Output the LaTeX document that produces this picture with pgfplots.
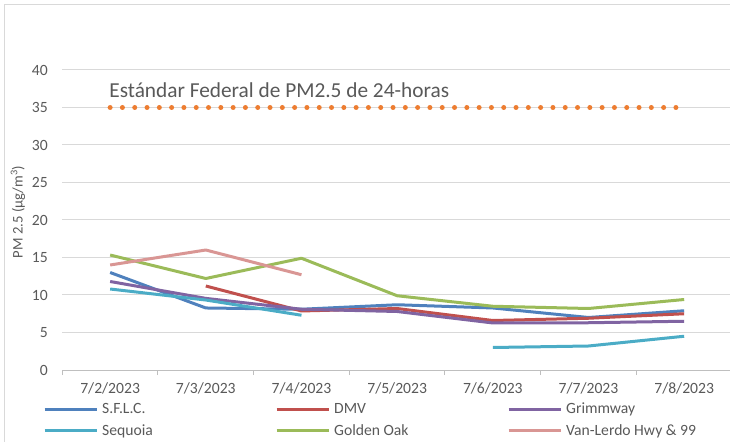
\documentclass[border=0pt]{standalone}
\usepackage{fontspec}
\setmainfont{Carlito}
\usepackage{pgfplots}
\pgfplotsset{compat=1.18}
\definecolor{txt}{HTML}{595959}
\definecolor{gridc}{HTML}{D9D9D9}
\definecolor{axc}{HTML}{BFBFBF}
\definecolor{cblue}{HTML}{4F81BD}
\definecolor{cred}{HTML}{C0504D}
\definecolor{cpurple}{HTML}{8064A2}
\definecolor{ccyan}{HTML}{4BACC6}
\definecolor{cgreen}{HTML}{9BBB59}
\definecolor{cpink}{HTML}{D99694}
\definecolor{corange}{HTML}{ED7D31}
\begin{document}
\begin{tikzpicture}
\path[use as bounding box] (0bp,0bp) rectangle (730bp,442bp);
\draw[gridc, line width=1bp] (4bp,-10bp) -- (4bp,437bp) -- (760bp,437bp);
\begin{axis}[
  at={(62.3bp,72bp)}, anchor=south west,
  scale only axis, width=669.7bp, height=300bp,
  xmin=-0.5, xmax=6.5, ymin=0, ymax=40,
  xtick={0,...,6},
  xticklabels={7/2/2023,7/3/2023,7/4/2023,7/5/2023,7/6/2023,7/7/2023,7/8/2023},
  minor xtick={-0.5,0.5,...,6.5},
  ytick={0,5,...,40},
  major tick length=0pt,
  minor tick length=5bp,
  tick align=outside,
  minor tick style={axc, line width=1bp},
  axis x line*=bottom, axis y line*=left,
  separate axis lines,
  x axis line style={axc, line width=1bp, -},
  y axis line style={draw=none},
  ymajorgrids, grid style={gridc, line width=1bp},
  ticklabel style={font=\fontsize{15.7}{18}\selectfont, text=txt},
  /pgf/number format/assume math mode=true,
  yticklabel style={xshift=-11bp},
  xticklabel style={yshift=-9bp},
  ylabel={PM 2.5 (µg/m\textsuperscript{3})},
  every axis y label/.style={at={(axis description cs:-0.0661,0.527)}, rotate=90, anchor=center, font=\fontsize{14.7}{17}\selectfont, text=txt},
  unbounded coords=jump,
  legend columns=3,
  legend cell align=left,
  legend style={at={(axis description cs:-0.0288,-0.103)}, anchor=north west, draw=none, fill=none, inner sep=0pt, row sep=5bp,
    font=\fontsize{15.7}{18}\selectfont, text=txt,
    /tikz/every odd column/.append style={column sep=2bp}},
  legend image code/.code={\draw[#1] (0bp,0bp) -- (52bp,0bp);},
  every axis plot/.append style={line width=3bp, line join=round},
  clip=false,
]
\addplot[corange, forget plot, line width=5bp, line cap=round, dash pattern=on 0bp off 12.3bp] coordinates {(0,35) (6,35)};
\addplot[cblue] coordinates {(0,13.0) (1,8.27) (2,8.1) (3,8.7) (4,8.27) (5,7.0) (6,7.9)};
\addlegendentry{\makebox[171bp][l]{S.F.L.C.}}
\addplot[cred] coordinates {(0,nan) (1,11.2) (2,7.87) (3,8.2) (4,6.6) (5,6.9) (6,7.5)};
\addlegendentry{\makebox[171bp][l]{DMV}}
\addplot[cpurple] coordinates {(0,11.8) (1,9.55) (2,8.1) (3,7.8) (4,6.27) (5,6.3) (6,6.5)};
\addlegendentry{\makebox[171bp][l]{Grimmway}}
\addplot[ccyan] coordinates {(0,10.8) (1,9.33) (2,7.3) (3,nan) (4,3.0) (5,3.2) (6,4.5)};
\addlegendentry{\makebox[171bp][l]{Sequoia}}
\addplot[cgreen] coordinates {(0,15.33) (1,12.2) (2,14.9) (3,9.9) (4,8.5) (5,8.2) (6,9.4)};
\addlegendentry{\makebox[171bp][l]{Golden Oak}}
\addplot[cpink] coordinates {(0,14.0) (1,16.0) (2,12.7)};
\addlegendentry{\makebox[171bp][l]{Van-Lerdo Hwy \& 99}}
\node[anchor=base west, inner sep=0pt, font=\fontsize{21.4}{25}\selectfont, text=txt] at (axis cs:-0.01,36.3) {Estándar Federal de PM2.5 de 24-horas};
\end{axis}
\end{tikzpicture}
\end{document}
